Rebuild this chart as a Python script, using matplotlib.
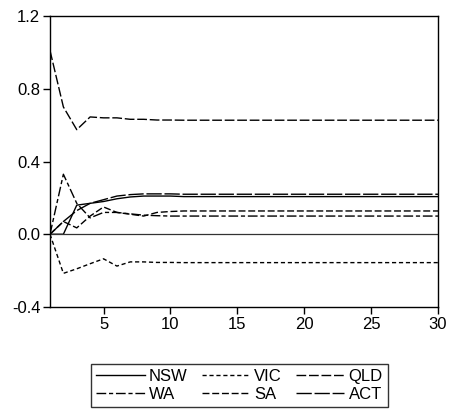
import matplotlib
matplotlib.use("Agg")
import matplotlib.pyplot as plt
import numpy as np

plt.rcParams['font.family'] = ['Liberation Sans', 'DejaVu Sans']
plt.rcParams['font.size'] = 12

periods = np.arange(1, 31)

# impulse responses (periods 1..30)
nsw = [0.0, 0.0, 0.16, 0.17, 0.18, 0.195, 0.205, 0.21, 0.21, 0.21] + [0.207] * 20
vic = [0.0, -0.215, -0.19, -0.162, -0.135, -0.175, -0.152, -0.152, -0.155, -0.155] + [-0.156] * 20
qld = [1.01, 0.70, 0.575, 0.645, 0.64, 0.64, 0.632, 0.632, 0.628, 0.628] + [0.627] * 20
wa = [0.0, 0.33, 0.17, 0.09, 0.12, 0.12, 0.112, 0.105, 0.102, 0.10] + [0.10] * 20
sa = [0.0, 0.07, 0.035, 0.10, 0.15, 0.12, 0.11, 0.10, 0.12, 0.125] + [0.128] * 20
act = [0.0, 0.07, 0.13, 0.17, 0.19, 0.21, 0.218, 0.222, 0.222, 0.222] + [0.22] * 20

names = ['NSW', 'VIC', 'QLD', 'WA', 'SA', 'ACT']
series = [nsw, vic, qld, wa, sa, act]
styles = ['-', (0, (3, 2)), (0, (7, 2)), (0, (7, 2, 3, 2)), (0, (5, 2)), (0, (11, 2))]

fig = plt.figure(figsize=(4.49, 4.12), dpi=100)
ax = fig.add_axes([50 / 449, 1 - 307 / 412, 388 / 449, 291 / 412])

lines = {}
for name, vals, ls in zip(names, series, styles):
    lines[name], = ax.plot(periods, vals, color='black', linestyle=ls, linewidth=1.0)

ax.axhline(0, color='#333333', linewidth=0.9)

ax.set_xlim(1, 30)
ax.set_ylim(-0.4, 1.2)
ax.set_xticks([5, 10, 15, 20, 25, 30])
ax.set_yticks([-0.4, 0.0, 0.4, 0.8, 1.2])
ax.set_yticklabels(['-0.4', '0.0', '0.4', '0.8', '1.2'])
ax.tick_params(direction='out', length=5, width=1, colors='black', pad=2)
for s in ax.spines.values():
    s.set_linewidth(1.0)

# legend rows: NSW VIC QLD / WA SA ACT
order = ['NSW', 'WA', 'VIC', 'SA', 'QLD', 'ACT']
leg = fig.legend([lines[n] for n in order], order, ncol=3,
                 loc='center', bbox_to_anchor=(239.5 / 449, 1 - 385.5 / 412),
                 frameon=True, fancybox=False, edgecolor='black',
                 handlelength=2.9, columnspacing=0.85, handletextpad=0.25,
                 borderpad=0.3, labelspacing=0.2)
leg.get_frame().set_linewidth(1.0)

fig.savefig('out.png', dpi=100)
